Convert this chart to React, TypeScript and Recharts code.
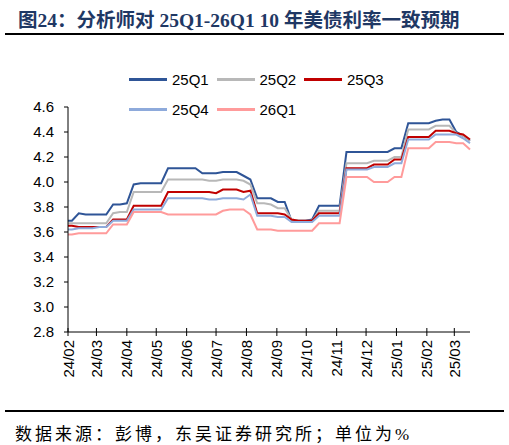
import React from "react";
import { LineChart, Line, XAxis, YAxis } from "recharts";

// weekly consensus snapshots (first point = start of the window)
const dates = [
  "2024-02-01", "2024-02-05", "2024-02-12", "2024-02-19", "2024-02-26",
  "2024-03-04", "2024-03-11", "2024-03-18", "2024-03-25",
  "2024-04-01", "2024-04-08", "2024-04-15", "2024-04-22", "2024-04-29",
  "2024-05-06", "2024-05-13", "2024-05-20", "2024-05-27",
  "2024-06-03", "2024-06-10", "2024-06-17", "2024-06-24",
  "2024-07-01", "2024-07-08", "2024-07-15", "2024-07-22", "2024-07-29",
  "2024-08-05", "2024-08-12", "2024-08-19", "2024-08-26",
  "2024-09-02", "2024-09-09", "2024-09-16", "2024-09-23", "2024-09-30",
  "2024-10-07", "2024-10-14", "2024-10-21", "2024-10-28",
  "2024-11-04", "2024-11-11", "2024-11-18", "2024-11-25",
  "2024-12-02", "2024-12-09", "2024-12-16", "2024-12-23", "2024-12-30",
  "2025-01-06", "2025-01-13", "2025-01-20", "2025-01-27",
  "2025-02-03", "2025-02-10", "2025-02-17", "2025-02-24",
  "2025-03-03", "2025-03-10", "2025-03-17",
];

const q125 = [
  3.69, 3.69, 3.75, 3.74, 3.74, 3.74, 3.74, 3.82, 3.82, 3.83,
  3.98, 3.99, 3.99, 3.99, 3.99, 4.11, 4.11, 4.11, 4.11, 4.11,
  4.07, 4.07, 4.07, 4.08, 4.08, 4.08, 4.05, 4.02, 3.87, 3.87,
  3.87, 3.84, 3.84, 3.69, 3.69, 3.69, 3.70, 3.81, 3.81, 3.81,
  3.81, 4.24, 4.24, 4.24, 4.24, 4.24, 4.24, 4.24, 4.27, 4.27,
  4.47, 4.47, 4.47, 4.47, 4.49, 4.50, 4.50, 4.40, 4.37, 4.33,
];
const q225 = [
  3.67, 3.67, 3.67, 3.67, 3.67, 3.67, 3.67, 3.75, 3.76, 3.76,
  3.92, 3.92, 3.92, 3.92, 3.92, 4.02, 4.02, 4.02, 4.02, 4.02,
  4.02, 4.01, 4.01, 4.02, 4.02, 4.02, 4.01, 3.98, 3.83, 3.83,
  3.82, 3.79, 3.79, 3.70, 3.69, 3.69, 3.69, 3.77, 3.77, 3.77,
  3.77, 4.15, 4.15, 4.15, 4.15, 4.17, 4.17, 4.17, 4.20, 4.20,
  4.42, 4.42, 4.42, 4.42, 4.45, 4.45, 4.45, 4.39, 4.37, 4.33,
];
const q325 = [
  3.65, 3.65, 3.64, 3.64, 3.64, 3.64, 3.64, 3.70, 3.70, 3.70,
  3.81, 3.81, 3.81, 3.81, 3.81, 3.92, 3.92, 3.92, 3.92, 3.92,
  3.92, 3.92, 3.91, 3.94, 3.94, 3.94, 3.92, 3.93, 3.75, 3.75,
  3.75, 3.75, 3.74, 3.70, 3.69, 3.69, 3.69, 3.75, 3.75, 3.75,
  3.75, 4.11, 4.11, 4.11, 4.11, 4.14, 4.14, 4.14, 4.18, 4.18,
  4.36, 4.36, 4.36, 4.36, 4.41, 4.41, 4.41, 4.39, 4.38, 4.34,
];
const q425 = [
  3.62, 3.62, 3.63, 3.63, 3.63, 3.64, 3.64, 3.69, 3.69, 3.69,
  3.78, 3.78, 3.78, 3.78, 3.78, 3.87, 3.87, 3.87, 3.87, 3.87,
  3.87, 3.86, 3.86, 3.87, 3.87, 3.87, 3.86, 3.90, 3.73, 3.73,
  3.73, 3.72, 3.72, 3.68, 3.68, 3.68, 3.68, 3.73, 3.73, 3.73,
  3.73, 4.10, 4.10, 4.10, 4.10, 4.12, 4.12, 4.12, 4.15, 4.15,
  4.34, 4.34, 4.34, 4.34, 4.38, 4.38, 4.38, 4.38, 4.35, 4.31,
];
const q126 = [
  3.58, 3.58, 3.59, 3.59, 3.59, 3.59, 3.59, 3.66, 3.66, 3.66,
  3.76, 3.76, 3.76, 3.76, 3.76, 3.74, 3.74, 3.74, 3.74, 3.74,
  3.74, 3.74, 3.74, 3.77, 3.78, 3.78, 3.78, 3.74, 3.62, 3.62,
  3.62, 3.61, 3.61, 3.61, 3.61, 3.61, 3.61, 3.67, 3.67, 3.67,
  3.67, 4.04, 4.04, 4.04, 4.04, 4.00, 4.00, 4.00, 4.04, 4.04,
  4.27, 4.27, 4.27, 4.27, 4.32, 4.32, 4.32, 4.31, 4.31, 4.26,
];

const tickDates = [
  "2024-02-01", "2024-03-01", "2024-04-01", "2024-05-01", "2024-06-01",
  "2024-07-01", "2024-08-01", "2024-09-01", "2024-10-01", "2024-11-01",
  "2024-12-01", "2025-01-01", "2025-02-01", "2025-03-01",
];
const tickLabels = [
  "24/02", "24/03", "24/04", "24/05", "24/06", "24/07", "24/08",
  "24/09", "24/10", "24/11", "24/12", "25/01", "25/02", "25/03",
];
const yTicks = [2.8, 3.0, 3.2, 3.4, 3.6, 3.8, 4.0, 4.2, 4.4, 4.6];

const series = [
  { key: "q125", name: "25Q1", color: "#2f5597", values: q125 },
  { key: "q225", name: "25Q2", color: "#b8b8b8", values: q225 },
  { key: "q325", name: "25Q3", color: "#c00000", values: q325 },
  { key: "q425", name: "25Q4", color: "#8eaadb", values: q425 },
  { key: "q126", name: "26Q1", color: "#ff9b9b", values: q126 },
];

const origin = Date.UTC(2024, 1, 1);
const toDay = (s: string) => {
  const [y, m, d] = s.split("-").map(Number);
  return Math.round((Date.UTC(y, m - 1, d) - origin) / 86400000);
};
const tickDays = tickDates.map(toDay);

const data = dates.map((d, i) => {
  const row: any = { day: toDay(d) };
  series.forEach((s) => (row[s.key] = s.values[i]));
  return row;
});

const XTick = (props: any) => {
  const { x, y, payload } = props;
  const label = tickLabels[tickDays.indexOf(payload.value)];
  return (
    <g>
      <line x1={x} x2={x} y1={y - 8} y2={y} stroke="#000" />
      <text
        transform={`translate(${x},${y + 4}) rotate(-90)`}
        textAnchor="end"
        dominantBaseline="central"
        fontSize={15}
        fill="#000"
      >
        {label}
      </text>
    </g>
  );
};

export default function App() {
  return (
    <div
      style={{
        position: "absolute",
        left: 0,
        top: 0,
        width: 509,
        height: 445,
        background: "#fff",
        fontFamily: "'Liberation Sans', Arial, sans-serif",
      }}
    >
      <div
        style={{
          position: "absolute",
          left: 18,
          top: 4,
          fontSize: 19.5,
          fontWeight: "bold",
          color: "#1f3864",
          whiteSpace: "nowrap",
          fontFamily: "'Liberation Serif', 'Noto Sans CJK SC', serif",
        }}
      >
        图24：分析师对 25Q1-26Q1 10 年美债利率一致预期
      </div>
      <div style={{ position: "absolute", left: 5, top: 33, width: 499, height: 2, background: "#000" }} />

      {series.map((s, i) => (
        <div
          key={s.key}
          style={{
            position: "absolute",
            left: 129 + (i % 3) * 87.5,
            top: i < 3 ? 69 : 99,
            height: 20,
            display: "flex",
            alignItems: "center",
            fontSize: 15,
            whiteSpace: "nowrap",
          }}
        >
          <div style={{ width: 38, height: 3, background: s.color, marginRight: 5 }} />
          <span>{s.name}</span>
        </div>
      ))}

      <LineChart
        width={509}
        height={445}
        data={data}
        margin={{ top: 107, right: 39, bottom: 63, left: 8 }}
      >
        <XAxis
          type="number"
          dataKey="day"
          domain={[0, 410]}
          ticks={tickDays}
          interval={0}
          height={50}
          tick={<XTick />}
          tickLine={false}
          tickSize={4}
          tickMargin={0}
          axisLine={{ stroke: "#000" }}
        />
        <YAxis
          domain={[2.8, 4.6]}
          ticks={yTicks}
          interval={0}
          width={60}
          tickFormatter={(v: number) => v.toFixed(1)}
          tick={{ fontSize: 15, fill: "#000" }}
          tickSize={4}
          tickMargin={10}
          tickLine={{ stroke: "#000" }}
          axisLine={{ stroke: "#000" }}
        />
        {series.map((s) => (
          <Line
            key={s.key}
            type="linear"
            dataKey={s.key}
            name={s.name}
            stroke={s.color}
            strokeWidth={2}
            dot={false}
            isAnimationActive={false}
          />
        ))}
      </LineChart>

      <div style={{ position: "absolute", left: 5, top: 410, width: 499, height: 2, background: "#000" }} />
      <div
        style={{
          position: "absolute",
          left: 15,
          top: 420,
          fontSize: 17,
          letterSpacing: 3,
          whiteSpace: "nowrap",
          fontFamily: "'Liberation Serif', 'Noto Sans CJK SC', serif",
        }}
      >
        数据来源：彭博，东吴证券研究所；单位为%
      </div>
    </div>
  );
}
